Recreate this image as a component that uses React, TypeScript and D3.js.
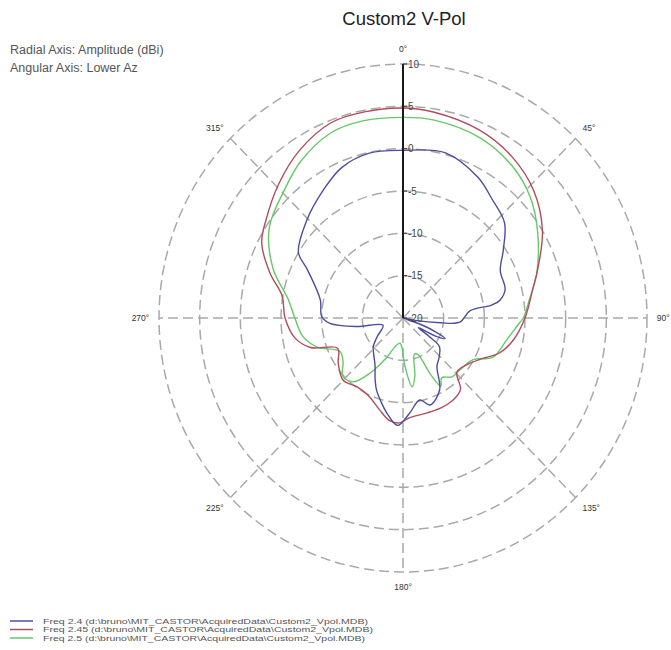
import React, { useEffect, useRef } from "react";
import * as d3 from "d3";

const W = 671;
const H = 650;

const titleText = "Custom2 V-Pol";
const infoLines = ["Radial Axis: Amplitude (dBi)", "Angular Axis: Lower Az"];
const ringValues = [-15, -10, -5, 0, 5, 10];
const radialTicks = [10, 5, 0, -5, -10, -15, -20];
const angleTicks = [0, 45, 90, 135, 180, 225, 270, 315];

const seriesNames = [
  "Freq 2.4  (d:\\bruno\\MIT_CASTOR\\AcquiredData\\Custom2_Vpol.MDB)",
  "Freq 2.45  (d:\\bruno\\MIT_CASTOR\\AcquiredData\\Custom2_Vpol.MDB)",
  "Freq 2.5  (d:\\bruno\\MIT_CASTOR\\AcquiredData\\Custom2_Vpol.MDB)",
];
const seriesColors = ["#4d4d9c", "#b04c5c", "#66c866"];

// [azimuth deg, amplitude dBi]
const freq24: [number, number][] = [
  [0, -0.2], [15, 0.2], [29, -1.0], [38, -2.2], [48, -3.2], [57, -5.3], [65, -6.8],
  [75, -7.0], [80, -7.9], [82, -9.0], [84, -11.7], [94, -13.0], [97, -15.4], [101, -18.5],
  [105, -20], [109, -18], [112, -15.8], [115, -14.3], [118, -15.3], [121, -17.8], [124, -16.2],
  [127, -14.4], [136, -13.6], [144, -12.9], [152, -10.4], [162, -9.2], [168, -10.1],
  [176, -8.7], [183, -7.3], [190, -8.6], [196, -9.9], [201, -10.9], [205, -11.9],
  [212, -13.5], [220, -14.4], [227, -15.0], [235, -16.1], [251, -17.4], [260, -14.2],
  [266, -11.0], [271, -10.0], [282, -9.6], [296, -6.9], [301, -5.0], [314, -3.5],
  [327, -2.0], [337, -0.7], [348, -0.1],
];

const freq245: [number, number][] = [
  [0, 4.8], [9, 4.6], [23, 4.1], [35, 3.3], [47, 2.0], [59, 0.0], [71, -2.5], [78, -3.7],
  [90, -5.0], [101, -6.2], [109, -7.4], [116, -9.1], [125, -10.4], [134, -10.8],
  [140, -9.0], [148, -8.5], [157, -8.4], [165, -8.4], [176, -8.2], [182, -7.6], [188, -7.8],
  [195, -8.8], [205, -9.9], [215, -10.1], [225, -9.6], [236, -10.4], [246, -11.2],
  [253, -8.1], [260, -6.5], [270, -5.5], [280, -4.9], [288, -2.8], [297, -0.5], [305, 0.5],
  [316, 2.0], [327, 3.5], [339, 4.7], [349, 4.8],
];

const freq25: [number, number][] = [
  [0, 3.7], [9, 3.7], [24, 3.3], [37, 2.4], [47.5, 1.2], [58, -0.5], [72, -2.7], [82, -4.3],
  [90, -5.2], [92, -5.6], [101.5, -7.0], [112.6, -8.0], [120, -10.1], [131, -10.7],
  [139, -10.8], [146, -11.5], [150, -10.7], [153, -12.5], [157, -15.3], [162, -15.5],
  [168, -13.0], [172, -11.8], [178, -14.5], [182, -16.5], [187, -17.0], [196, -16.5],
  [203, -15.0], [212, -12.3], [219, -10.3], [227, -9.9], [235, -11.0], [243, -11.3],
  [252, -8.9], [260, -7.5], [270, -6.7], [279, -5.7], [290, -3.0], [303, -0.4], [316, 1.0],
  [326, 2.4], [338, 3.6], [348, 3.8],
];

const seriesData = [freq24, freq245, freq25];

const FONT = "'Liberation Sans', Arial, sans-serif";

export default function App() {
  const ref = useRef<SVGSVGElement>(null);

  useEffect(() => {
    const svg = d3.select(ref.current);
    svg.selectAll("*").remove();

    const cx = 403, cy = 318, rx = 244, ry = 254;
    const r = d3.scaleLinear().domain([-20, 10]).range([0, 1]).clamp(true);
    const rad = (a: number) => (a * Math.PI) / 180;
    const px = (a: number, db: number) => cx + rx * r(db) * Math.sin(rad(a));
    const py = (a: number, db: number) => cy - ry * r(db) * Math.cos(rad(a));

    svg.append("rect").attr("width", W).attr("height", H).attr("fill", "#fff");

    // title
    svg.append("text").attr("x", 404).attr("y", 25).attr("text-anchor", "middle")
      .attr("font-family", FONT).attr("font-size", 18.5).attr("fill", "#222").text(titleText);

    svg.append("g").selectAll("text").data(infoLines).join("text")
      .attr("x", 10).attr("y", (_d, i) => 54 + i * 18)
      .attr("font-family", FONT).attr("font-size", 12.5).attr("fill", "#555")
      .text((d) => d);

    // grid rings
    svg.append("g").selectAll("ellipse").data(ringValues).join("ellipse")
      .attr("cx", cx).attr("cy", cy)
      .attr("rx", (d) => rx * r(d)).attr("ry", (d) => ry * r(d))
      .attr("fill", "none").attr("stroke", "#a9a9a9").attr("stroke-width", 1.5)
      .attr("stroke-dasharray", "10,5");

    // spokes
    svg.append("g").selectAll("line").data(angleTicks.filter((a) => a !== 0)).join("line")
      .attr("x1", cx).attr("y1", cy)
      .attr("x2", (a) => px(a, 10)).attr("y2", (a) => py(a, 10))
      .attr("stroke", "#a9a9a9").attr("stroke-width", 1.5).attr("stroke-dasharray", "10,5");

    // angle labels
    svg.append("g").selectAll("text").data(angleTicks).join("text")
      .attr("x", (a) => cx + rx * 1.04 * Math.sin(rad(a)))
      .attr("y", (a) => cy - ry * 1.06 * Math.cos(rad(a)))
      .attr("text-anchor", (a) => {
        const s = Math.sin(rad(a));
        return s > 0.1 ? "start" : s < -0.1 ? "end" : "middle";
      })
      .attr("dominant-baseline", "central")
      .attr("font-family", FONT).attr("font-size", 8.5).attr("fill", "#333")
      .text((a) => `${a}°`);

    // series curves
    const line = d3.line<[number, number]>()
      .x((d) => px(d[0], d[1]))
      .y((d) => py(d[0], d[1]))
      .curve(d3.curveCatmullRomClosed.alpha(0.5));

    const order = [2, 1, 0];
    svg.append("g").selectAll("path").data(order).join("path")
      .attr("d", (i) => line(seriesData[i]) || "")
      .attr("fill", "none")
      .attr("stroke", (i) => seriesColors[i])
      .attr("stroke-width", 1.4);

    // radial axis
    svg.append("line").attr("x1", cx).attr("y1", cy).attr("x2", cx).attr("y2", py(0, 10))
      .attr("stroke", "#1a1a1a").attr("stroke-width", 2);
    svg.append("g").selectAll("line").data(radialTicks).join("line")
      .attr("x1", cx).attr("x2", cx + 4)
      .attr("y1", (v) => py(0, v)).attr("y2", (v) => py(0, v))
      .attr("stroke", "#333").attr("stroke-width", 1);
    svg.append("g").selectAll("text").data(radialTicks).join("text")
      .attr("x", cx + 5).attr("y", (v) => py(0, v))
      .attr("dominant-baseline", "central")
      .attr("font-family", FONT).attr("font-size", 10).attr("fill", "#444")
      .text((v) => `${v}`);

    // legend
    const lg = svg.append("g").selectAll("g").data([0, 1, 2]).join("g")
      .attr("transform", (i) => `translate(0, ${621 + i * 8.5})`);
    lg.append("line").attr("x1", 10).attr("x2", 33).attr("y1", 0).attr("y2", 0)
      .attr("stroke", (i) => seriesColors[i]).attr("stroke-width", 1.5);
    lg.append("text").attr("x", 43).attr("y", 0).attr("dominant-baseline", "central")
      .attr("font-family", FONT).attr("font-size", 7.5).attr("fill", "#555")
      .attr("textLength", (i) => [325, 330, 322][i])
      .attr("lengthAdjust", "spacingAndGlyphs")
      .text((i) => seriesNames[i]);
  }, []);

  return (
    <svg
      ref={ref}
      width={W}
      height={H}
      style={{ position: "absolute", left: 0, top: 0, display: "block" }}
    />
  );
}
